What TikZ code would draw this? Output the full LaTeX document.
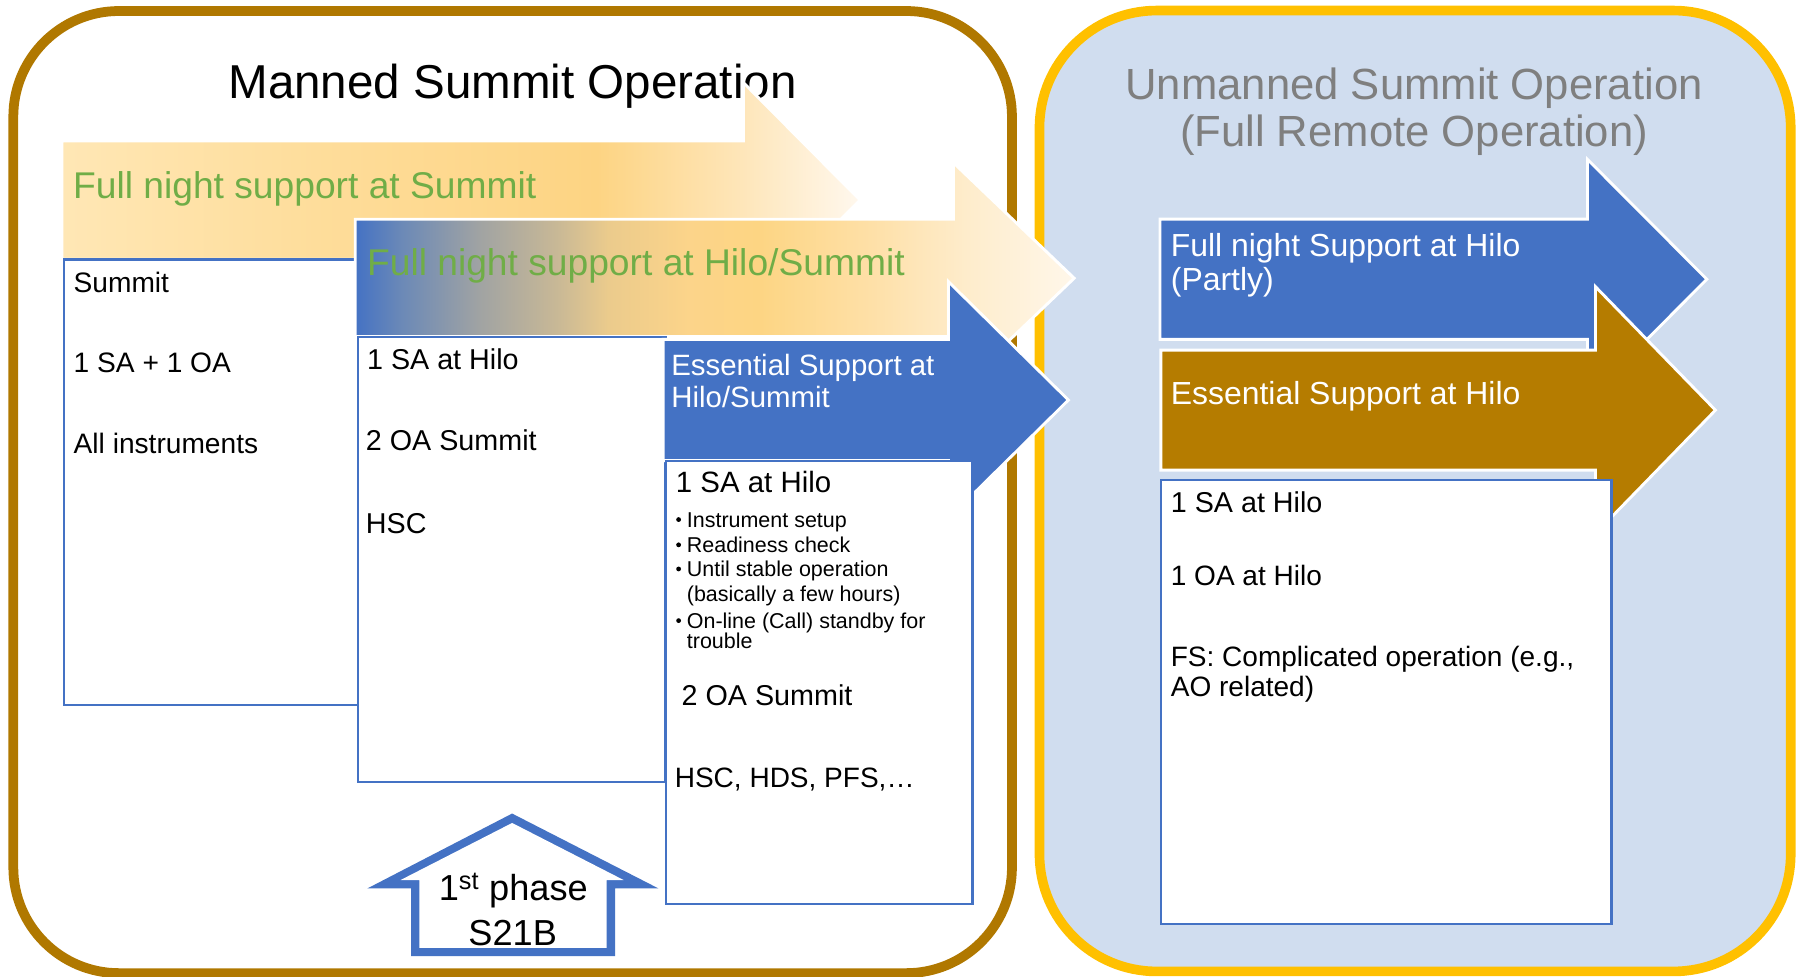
\documentclass[tikz,border=0pt]{standalone}
\usepackage{fontspec}
\setmainfont{Liberation Sans}
\definecolor{brownb}{HTML}{B07800}
\definecolor{goldb}{HTML}{FFC000}
\definecolor{lightbg}{HTML}{D0DDEF}
\definecolor{accblue}{HTML}{4472C4}
\definecolor{grn}{HTML}{70AD47}
\definecolor{arrbrown}{HTML}{B57C00}
\definecolor{titlegrey}{HTML}{7F7F7F}
% arrow 1 colours
\definecolor{aA}{HTML}{FFE7B5}
\definecolor{aB}{HTML}{FEDC98}
\definecolor{aC}{HTML}{FDD483}
\definecolor{aD}{HTML}{FEE6BA}
\definecolor{aE}{HTML}{FFF8EE}
% arrow 2 colours
\definecolor{bA}{HTML}{4472C4}
\definecolor{bB}{HTML}{6B89B7}
\definecolor{bC}{HTML}{A0A3A3}
\definecolor{bD}{HTML}{C8B896}
\definecolor{bE}{HTML}{EBCB8C}
\definecolor{bF}{HTML}{FCD48A}
\definecolor{bG}{HTML}{FDD583}
\definecolor{bH}{HTML}{FEE0A8}
\definecolor{bI}{HTML}{FEECCB}
\definecolor{bJ}{HTML}{FFF7EA}
\pgfdeclarehorizontalshading{shadeone}{100bp}{color(0bp)=(aA); color(25bp)=(aA); color(42.7bp)=(aB); color(58.5bp)=(aC); color(67.7bp)=(aD); color(75bp)=(aE); color(100bp)=(aE)}
\pgfdeclarehorizontalshading{shadetwo}{100bp}{color(0bp)=(bA); color(25bp)=(bA); color(28.2bp)=(bB); color(33.6bp)=(bC); color(39bp)=(bD); color(42.6bp)=(bE); color(48.2bp)=(bF); color(53bp)=(bG); color(61bp)=(bH); color(67.4bp)=(bI); color(75bp)=(bJ); color(100bp)=(bJ)}
\newcommand\fsz[1]{\fontsize{#1}{#1}\selectfont}
\tikzset{
  bigarrow/.style={draw=white, line width=2.5pt, line join=miter},
  infobox/.style={draw=accblue, line width=2pt, fill=white},
  lbl/.style={anchor=base west, inner sep=0pt},
  ctr/.style={anchor=base, inner sep=0pt},
  bulletdot/.style={fill=black},
}
\begin{document}
\begin{tikzpicture}[x=1pt,y=-1pt]
\useasboundingbox (0,0) rectangle (1565,850);

% big frames
\draw[line width=8.5pt, draw=brownb, fill=white, rounded corners=92pt] (11.6,9.6) rectangle (881.3,847.5);
\draw[line width=8.4pt, draw=goldb, fill=lightbg, rounded corners=102pt] (905.3,9.2) rectangle (1559.5,846);

% titles
\node[ctr, font=\fsz{41.4}] (titleL) at (446.4,85.7) {Manned Summit Operation};
\node[ctr, font=\fsz{38}, text=titlegrey] (titleRa) at (1231.5,86.5) {Unmanned Summit Operation};
\node[ctr, font=\fsz{38}, text=titlegrey] (titleRb) at (1231.5,127.8) {(Full Remote Operation)};

% arrow 1
\path[bigarrow, shade, shading=shadeone] (54,122.8) -- (647.5,122.8) -- (647.5,72) -- (749,174.2) -- (647.5,276.4) -- (647.5,225.9) -- (54,225.9) -- cycle;
\node[lbl, font=\fsz{32.4}, text=grn] (a1txt) at (63.5,173.3) {Full night support at Summit};

% box 1
\draw[infobox] (56,225.9) rectangle (320,614);
\node[lbl, font=\fsz{24.5}] (b1a) at (64,255) {Summit};
\node[lbl, font=\fsz{24.5}] (b1b) at (64,324) {1 SA + 1 OA};
\node[lbl, font=\fsz{24.5}] (b1c) at (64,395) {All instruments};

% arrow 2
\path[bigarrow, shade, shading=shadetwo] (309.4,191) -- (830.3,191) -- (830.3,141.7) -- (935.5,242.3) -- (830.3,342.9) -- (830.3,293.2) -- (309.4,293.2) -- cycle;
\node[lbl, font=\fsz{32.4}, text=grn] (a2txt) at (319.5,240.1) {Full night support at Hilo/Summit};

% box 2
\draw[infobox] (312,293.2) rectangle (579.5,681);
\node[lbl, font=\fsz{25}] (b2a) at (319.5,321.7) {1 SA at Hilo};
\node[lbl, font=\fsz{25}] (b2b) at (318.5,392.5) {2 OA Summit};
\node[lbl, font=\fsz{25}] (b2c) at (318.5,464.5) {HSC};

% arrow 3
\path[bigarrow, fill=accblue] (577.5,295.6) -- (826,295.6) -- (826,245.3) -- (930.5,348.4) -- (826,451.5) -- (826,401.2) -- (577.5,401.2) -- cycle;
\node[lbl, font=\fsz{25.6}, text=white] (a3a) at (584.5,326.6) {Essential Support at};
\node[lbl, font=\fsz{25.6}, text=white] (a3b) at (584.5,355) {Hilo/Summit};

% box 3
\draw[infobox] (580,401.2) rectangle (847,787);
\node[lbl, font=\fsz{25.6}] (b3a) at (588.5,428.5) {1 SA at Hilo};
\fill[bulletdot] (591,452.5) circle (2.1);
\node[lbl, font=\fsz{18.7}] (b3b) at (598,459) {Instrument setup};
\fill[bulletdot] (591,474.5) circle (2.1);
\node[lbl, font=\fsz{18.7}] (b3c) at (598,481) {Readiness check};
\fill[bulletdot] (591,495.5) circle (2.1);
\node[lbl, font=\fsz{18.7}] (b3d) at (598,502) {Until stable operation};
\node[lbl, font=\fsz{18.7}] (b3e) at (598,524) {(basically a few hours)};
\fill[bulletdot] (591,540.5) circle (2.1);
\node[lbl, font=\fsz{18.7}] (b3f) at (598,547) {On-line (Call) standby for};
\node[lbl, font=\fsz{18.7}] (b3g) at (598,564.6) {trouble};
\node[lbl, font=\fsz{25}] (b3h) at (593.5,614) {2 OA Summit};
\node[lbl, font=\fsz{24.4}] (b3i) at (587.5,686) {HSC, HDS, PFS,…};

% up arrow (1st phase)
\fill[accblue] (446,708.5) -- (573.4,773.7) -- (535.7,773.7) -- (535.7,832.7) -- (358,832.7) -- (358,773.7) -- (320,773.7) -- cycle;
\fill[white] (446,716.7) -- (543.1,766.4) -- (528.4,766.4) -- (528.4,825.4) -- (365.3,825.4) -- (365.3,766.4) -- (348.9,766.4) -- cycle;
\node[ctr, font=\fsz{31.5}] (ph1) at (447,784) {1\textsuperscript{st} phase};
\node[ctr, font=\fsz{31.5}] (ph2) at (446.5,823) {S21B};

% arrow 4
\path[bigarrow, fill=accblue] (1010.2,190.8) -- (1382.5,190.8) -- (1382.5,138.8) -- (1486.5,243.2) -- (1382.5,347.6) -- (1382.5,295.6) -- (1010.2,295.6) -- cycle;
\node[lbl, font=\fsz{27.8}, text=white] (a4a) at (1019.5,223.6) {Full night Support at Hilo};
\node[lbl, font=\fsz{27.8}, text=white] (a4b) at (1019.5,252.6) {(Partly)};

% arrow 5
\path[bigarrow, fill=arrbrown] (1011,304.9) -- (1389.5,304.9) -- (1389.5,249.7) -- (1494,357.2) -- (1389.5,464.7) -- (1389.5,409.4) -- (1011,409.4) -- cycle;
\node[lbl, font=\fsz{27.8}, text=white] (a5a) at (1019.5,352.2) {Essential Support at Hilo};

% box 5
\draw[infobox] (1011,418) rectangle (1403.5,804.5);
\node[lbl, font=\fsz{25}] (b5a) at (1019.5,446.6) {1 SA at Hilo};
\node[lbl, font=\fsz{24.4}] (b5b) at (1019.5,509.5) {1 OA at Hilo};
\node[lbl, font=\fsz{24.4}] (b5c) at (1019.5,580.4) {FS: Complicated operation (e.g.,};
\node[lbl, font=\fsz{24.4}] (b5d) at (1019.5,606.2) {AO related)};
\end{tikzpicture}
\end{document}
